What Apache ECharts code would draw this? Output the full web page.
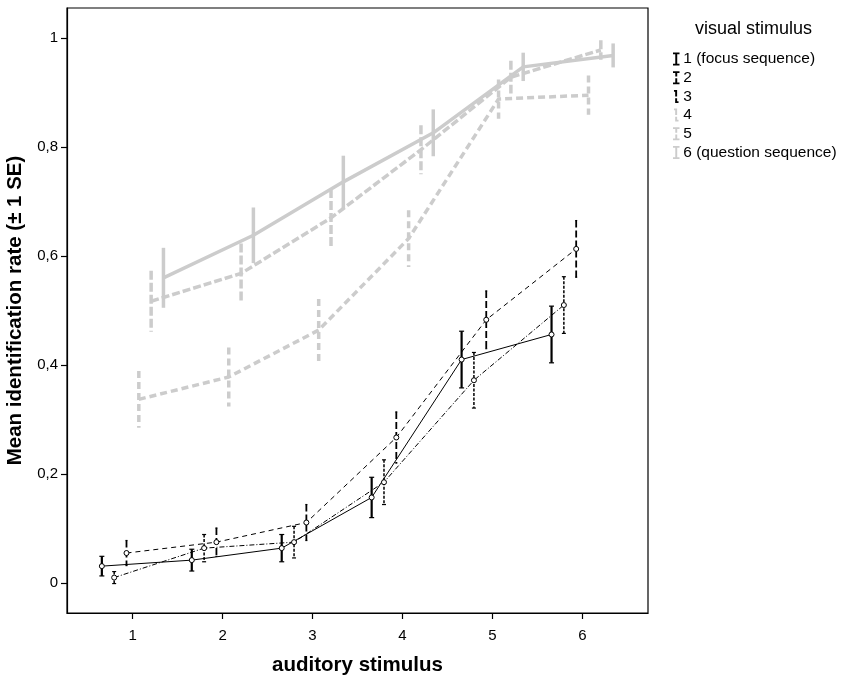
<!DOCTYPE html>
<html>
<head>
<meta charset="utf-8">
<script src="https://cdn.jsdelivr.net/npm/echarts@6/dist/echarts.min.js"></script>
<style>
  html, body { margin: 0; padding: 0; background: #fff; }
  #main { width: 843px; height: 680px; }
</style>
</head>
<body>
<div id="main"></div>
<script>
// auditory stimulus steps (x axis)
const auditory = [1, 2, 3, 4, 5, 6];
const yTicks = [0, 0.2, 0.4, 0.6, 0.8, 1];

// visual stimulus groups
const visualNames = ['1 (focus sequence)', '2', '3', '4', '5', '6 (question sequence)'];

// mean identification rate per visual stimulus
const mean1 = [0.031, 0.042, 0.064, 0.157, 0.410, 0.456];
const mean2 = [0.010, 0.064, 0.075, 0.185, 0.372, 0.510];
const mean3 = [0.055, 0.075, 0.111, 0.267, 0.483, 0.613];
const mean4 = [0.337, 0.378, 0.464, 0.632, 0.888, 0.895];
const mean5 = [0.517, 0.568, 0.670, 0.795, 0.928, 0.978];
const mean6 = [0.560, 0.638, 0.736, 0.826, 0.947, 0.968];

// standard errors
const se1 = [0.018, 0.020, 0.025, 0.037, 0.052, 0.052];
const se2 = [0.011, 0.025, 0.029, 0.041, 0.051, 0.052];
const se3 = [0.023, 0.026, 0.033, 0.047, 0.053, 0.052];
const se4 = [0.052, 0.054, 0.057, 0.052, 0.036, 0.036];
const se5 = [0.056, 0.055, 0.053, 0.045, 0.030, 0.018];
const se6 = [0.055, 0.051, 0.048, 0.043, 0.026, 0.022];

const means = [mean1, mean2, mean3, mean4, mean5, mean6];
const ses = [se1, se2, se3, se4, se5, se6];

// look of each group: line, error bar
const BLACK = '#000000', GREY = '#cccccc';
const looks = [
    { color: BLACK, width: 1, dash: 'solid', barWidth: 2.2, barDash: 'solid', cap: 2.5, dot: true },
    { color: BLACK, width: 1, dash: [5, 2, 1, 2], barWidth: 1.5, barDash: [3, 1.5], cap: 2, dot: true },
    { color: BLACK, width: 1, dash: [5, 4], barWidth: 1.8, barDash: [7, 3], cap: 1, dot: true },
    { color: GREY, width: 3.5, dash: [7, 4], barWidth: 3.5, barDash: [7, 4], cap: 0, dot: false },
    { color: GREY, width: 3.5, dash: [8, 3], barWidth: 3.5, barDash: [9, 3], cap: 0, dot: false },
    { color: GREY, width: 3.5, dash: 'solid', barWidth: 3.5, barDash: 'solid', cap: 0, dot: false }
];

const FONT = "'Liberation Sans', Arial, sans-serif";
const GAP = 0.137;   // dodge step between the six groups

const chart = echarts.init(document.getElementById('main'));

function errorBarRenderer(look) {
    return function (params, api) {
        const x = api.value(0);
        const top = api.coord([x, api.value(2)]);
        const bot = api.coord([x, api.value(1)]);
        const style = { stroke: look.color, lineWidth: look.barWidth, lineDash: look.barDash, fill: null };
        const children = [{
            type: 'line',
            shape: { x1: top[0], y1: top[1], x2: bot[0], y2: bot[1] },
            style: style
        }];
        if (look.cap > 0) {
            [top, bot].forEach(p => children.push({
                type: 'line',
                shape: { x1: p[0] - look.cap, y1: p[1], x2: p[0] + look.cap, y2: p[1] },
                style: { stroke: look.color, lineWidth: 1.2 }
            }));
        }
        return { type: 'group', children: children };
    };
}

const series = [];
means.forEach((m, i) => {
    const look = looks[i];
    const off = (i - 2.5) * GAP;
    series.push({
        name: visualNames[i],
        type: 'line',
        data: auditory.map((a, k) => [a + off, m[k]]),
        symbol: look.dot ? 'circle' : 'none',
        symbolSize: 5,
        showSymbol: look.dot,
        itemStyle: { color: '#fff', borderColor: look.color, borderWidth: 1 },
        lineStyle: { color: look.color, width: look.width, type: look.dash },
        z: look.dot ? 4 : 2,
        silent: true,
        animation: false
    });
    series.push({
        name: visualNames[i],
        type: 'custom',
        data: auditory.map((a, k) => [a + off, m[k] - ses[i][k], m[k] + ses[i][k]]),
        renderItem: errorBarRenderer(look),
        encode: { x: 0, y: [1, 2] },
        z: look.dot ? 3 : 1,
        silent: true,
        animation: false
    });
});

const iBeam = 'path://M0,0H6V1.6H3.9V10.4H6V12H0V10.4H2.1V1.6H0Z';
const iBeamDash = 'path://M0,0H6V1.6H3.9V5H2.1V1.6H0ZM2.1,6.6H3.9V10.4H6V12H0V10.4H2.1Z';
const oneDash = 'path://M1,0H3.9V6H2.1V1.6H1ZM2.1,7.6H3.9V10.4H5.2V12H2.1Z';
const legendIcons = [iBeam, iBeamDash, oneDash, oneDash, iBeamDash, iBeam];

chart.setOption({
    animation: false,
    title: {
        text: 'visual stimulus',
        left: 690,
        top: 15,
        textStyle: { fontFamily: FONT, fontSize: 18, fontWeight: 'normal', color: '#000' }
    },
    legend: {
        orient: 'vertical',
        left: 668,
        top: 46,
        itemWidth: 8,
        itemHeight: 13,
        itemGap: 2.7,
        selectedMode: false,
        textStyle: { fontFamily: FONT, fontSize: 15.5, color: '#000', padding: [0, 0, 0, -2] },
        data: visualNames.map((n, i) => ({
            name: n,
            icon: legendIcons[i],
            itemStyle: { color: looks[i].color, borderWidth: 0 }
        }))
    },
    grid: {
        left: 67, right: 195, top: 8, bottom: 67,
        containLabel: false, outerBoundsMode: 'none',
        show: true, borderColor: '#000', borderWidth: 1.2, backgroundColor: '#fff'
    },
    xAxis: {
        type: 'value',
        min: 0.27,
        max: 6.73,
        name: 'auditory stimulus',
        nameLocation: 'middle',
        nameGap: 42,
        nameTextStyle: { fontFamily: FONT, fontSize: 20.5, fontWeight: 'bold', color: '#000' },
        axisLine: { show: true, onZero: false, lineStyle: { color: '#000', width: 1.2 } },
        axisTick: { show: true, customValues: auditory, length: 6, lineStyle: { color: '#000', width: 1.2 } },
        axisLabel: { customValues: auditory, fontFamily: FONT, fontSize: 15, color: '#000', margin: 15 },
        splitLine: { show: false }
    },
    yAxis: {
        type: 'value',
        min: -0.055,
        max: 1.055,
        name: 'Mean identification rate (\u00b1 1 SE)',
        nameLocation: 'middle',
        nameRotate: 90,
        nameGap: 35,
        nameTextStyle: { fontFamily: FONT, fontSize: 20.5, fontWeight: 'bold', color: '#000' },
        axisLine: { show: true, onZero: false, lineStyle: { color: '#000', width: 1.2 } },
        axisTick: { show: true, customValues: yTicks, length: 6, lineStyle: { color: '#000', width: 1.2 } },
        axisLabel: {
            customValues: yTicks,
            fontFamily: FONT, fontSize: 15, color: '#000', margin: 9,
            formatter: v => String(Math.round(v * 10) / 10).replace('.', ',')
        },
        splitLine: { show: false }
    },
    series: series
});

window.addEventListener('resize', () => chart.resize());
</script>
</body>
</html>
